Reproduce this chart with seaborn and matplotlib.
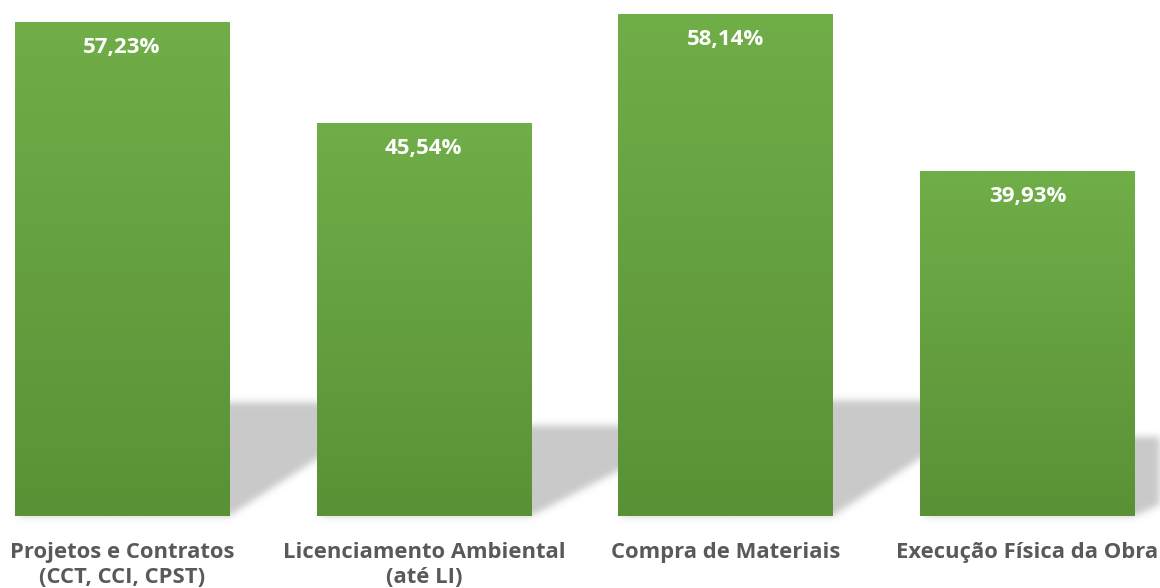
import numpy as np
import pandas as pd
import matplotlib
matplotlib.use("Agg")
import matplotlib.pyplot as plt
from matplotlib.patches import Polygon
import seaborn as sns

# Data
categories = [
    "Projetos e Contratos\n(CCT, CCI, CPST)",
    "Licenciamento Ambiental\n(até LI)",
    "Compra de Materiais",
    "Execução Física da Obra",
]
values = [57.23, 45.54, 58.14, 39.93]
value_labels = ["57,23%", "45,54%", "58,14%", "39,93%"]

sns.set_theme(style="white")
plt.rcParams["font.family"] = ["Open Sans", "DejaVu Sans"]

W, H, DPI = 11.6, 5.88, 100
fig = plt.figure(figsize=(W, H), dpi=DPI)
ax = fig.add_axes([0, 72 / 588, 1, 516 / 588])

df = pd.DataFrame({"categoria": categories, "valor": values})
sns.barplot(data=df, x="categoria", y="valor", color="#6aa543",
            width=0.71, ax=ax, zorder=3, saturation=1)

TOP = "#70ae48"
BOTTOM = "#5a9136"
SHADOW = np.array([0.79, 0.79, 0.79])


def soft_shadow(sigma_px):
    """Agg filter: paint the artist in flat grey and blur its alpha."""
    def _filter(im, dpi):
        pad = int(3 * sigma_px)
        a = np.pad(im[..., 3], pad)
        k = np.arange(-pad, pad + 1)
        w = np.exp(-0.5 * (k / sigma_px) ** 2)
        w /= w.sum()
        tmp = np.zeros_like(a)
        for kk, ww in zip(k, w):
            tmp += ww * np.roll(a, kk, axis=0)
        out_a = np.zeros_like(a)
        for kk, ww in zip(k, w):
            out_a += ww * np.roll(tmp, kk, axis=1)
        out = np.zeros(a.shape + (4,), dtype=im.dtype)
        out[..., :3] = SHADOW
        out[..., 3] = out_a
        return out, -pad, -pad
    return _filter


# Vertical gradient fill for each bar plus a receding floor shadow
grad = np.linspace(0, 1, 256).reshape(-1, 1)
cmap = matplotlib.colors.LinearSegmentedColormap.from_list("g", [BOTTOM, TOP])
shadow_dx = 0.58
for patch, v in zip(ax.patches, values):
    x0 = patch.get_x()
    x1 = x0 + patch.get_width()
    patch.set_facecolor("none")
    patch.set_edgecolor("none")
    img = ax.imshow(grad, extent=[x0, x1, 0, v], origin="lower", cmap=cmap,
                    aspect="auto", zorder=3, interpolation="bilinear")
    img.set_clip_path(patch)
    sh_h = 0.23 * v
    poly = Polygon([(x0, 0), (x1, 0), (x1 + shadow_dx, sh_h), (x0 + shadow_dx, sh_h)],
                   closed=True, facecolor="#c9c9c9", edgecolor="none", zorder=1)
    poly.set_agg_filter(soft_shadow(3.5))
    ax.add_patch(poly)

# Value labels inside the top of each bar
for i, (v, lab) in enumerate(zip(values, value_labels)):
    ax.annotate(lab, (i, v), xytext=(0, -18.5), textcoords="offset points",
                ha="center", va="center", color="white", fontsize=16,
                fontweight="bold", zorder=5)

ax.set_xlim(-0.404, 3.439)
ax.set_ylim(0, 59.76)
ax.set_xlabel("")
ax.set_ylabel("")
ax.set_yticks([])
ax.tick_params(axis="x", length=0, pad=18.5)
for t in ax.get_xticklabels():
    t.set_fontsize(15.8)
    t.set_fontweight("bold")
    t.set_color("#595959")
    t.set_linespacing(1.3)
    t.set_multialignment("center")
sns.despine(ax=ax, left=True, bottom=True)
ax.patch.set_alpha(0)

fig.savefig("out.png", dpi=DPI, facecolor="white")
